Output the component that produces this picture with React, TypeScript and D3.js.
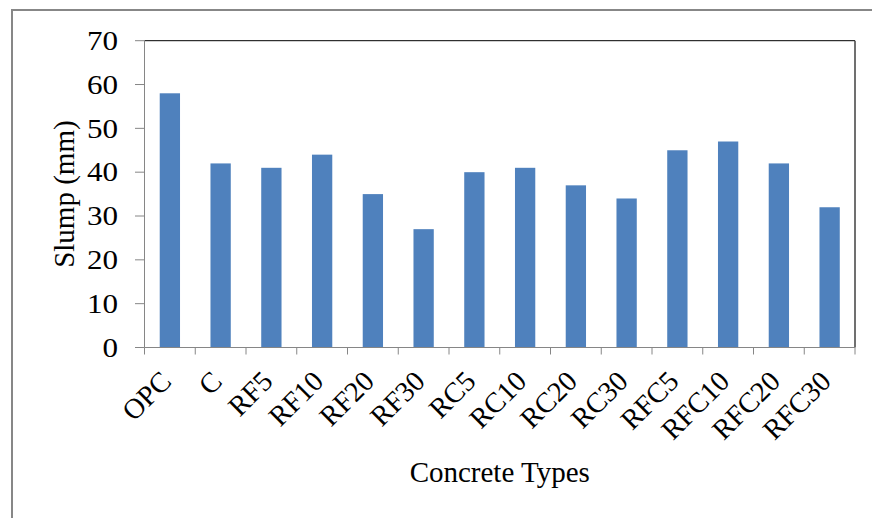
import React from "react";
import * as d3 from "d3";

const categories = ["OPC", "C", "RF5", "RF10", "RF20", "RF30", "RC5", "RC10", "RC20", "RC30", "RFC5", "RFC10", "RFC20", "RFC30"];
const slump = [58, 42, 41, 44, 35, 27, 40, 41, 37, 34, 45, 47, 42, 32];
const yTicks = [0, 10, 20, 30, 40, 50, 60, 70];

const W = 872;
const H = 518;
const left = 144.5;
const right = 855;
const top = 40.7;
const bottom = 347.5;
const FONT = "'Liberation Serif', 'Times New Roman', serif";

export default function App() {
  const x = d3.scaleBand<string>().domain(categories).range([left, right]).paddingInner(0).paddingOuter(0);
  const y = d3.scaleLinear().domain([0, 70]).range([bottom, top]);
  const bw = x.bandwidth() * 0.4;
  const boundaries = categories.map((c) => x(c) as number).concat([right]);
  const midY = (top + bottom) / 2;

  return (
    <div style={{ position: "fixed", left: 0, top: 0, width: W, height: H, background: "#fff" }}>
      <svg width={W} height={H} style={{ display: "block" }}>
        <rect x={0} y={0} width={W} height={H} fill="#fff" />
        {/* outer chart border */}
        <rect x={12} y={10} width={W + 20} height={H + 20} fill="none" stroke="#878787" strokeWidth={2} />
        {/* plot frame top & right */}
        <line x1={left} x2={right} y1={top} y2={top} stroke="#000" strokeWidth={1} />
        <line x1={right} x2={right} y1={top} y2={bottom} stroke="#404040" strokeWidth={1.5} />
        {/* bars */}
        {categories.map((c, i) => (
          <rect
            key={c}
            x={(x(c) as number) + x.bandwidth() / 2 - bw / 2}
            y={y(slump[i])}
            width={bw}
            height={bottom - y(slump[i])}
            fill="#4F81BD"
          />
        ))}
        {/* y axis */}
        <line x1={left} x2={left} y1={top} y2={bottom} stroke="#868686" strokeWidth={1} />
        {yTicks.map((t) => (
          <g key={t}>
            <line x1={135} x2={left} y1={y(t)} y2={y(t)} stroke="#868686" strokeWidth={1} />
            <g transform={`translate(118 ${y(t)}) scale(1.15 1)`}>
              <text x={0} y={0} dy="0.34em" textAnchor="end" fontFamily={FONT} fontSize={27} fill="#000">
                {t}
              </text>
            </g>
          </g>
        ))}
        {/* x axis */}
        <line x1={left} x2={right} y1={bottom} y2={bottom} stroke="#868686" strokeWidth={1} />
        {boundaries.map((bx, i) => (
          <line key={i} x1={bx} x2={bx} y1={bottom} y2={bottom + 7} stroke="#868686" strokeWidth={1} />
        ))}
        {categories.map((c) => {
          const cx = (x(c) as number) + x.bandwidth() / 2 + 3;
          const cy = 383;
          return (
            <text
              key={c}
              x={cx}
              y={cy}
              textAnchor="end"
              transform={`rotate(-45 ${cx} ${cy})`}
              fontFamily={FONT}
              fontSize={28.5}
              fill="#000"
            >
              {c}
            </text>
          );
        })}
        {/* axis titles */}
        <text
          x={74}
          y={midY}
          textAnchor="middle"
          transform={`rotate(-90 74 ${midY})`}
          fontFamily={FONT}
          fontSize={29}
          fill="#000"
        >
          Slump (mm)
        </text>
        <text x={(left + right) / 2} y={482} textAnchor="middle" fontFamily={FONT} fontSize={29} fill="#000">
          Concrete Types
        </text>
      </svg>
    </div>
  );
}
